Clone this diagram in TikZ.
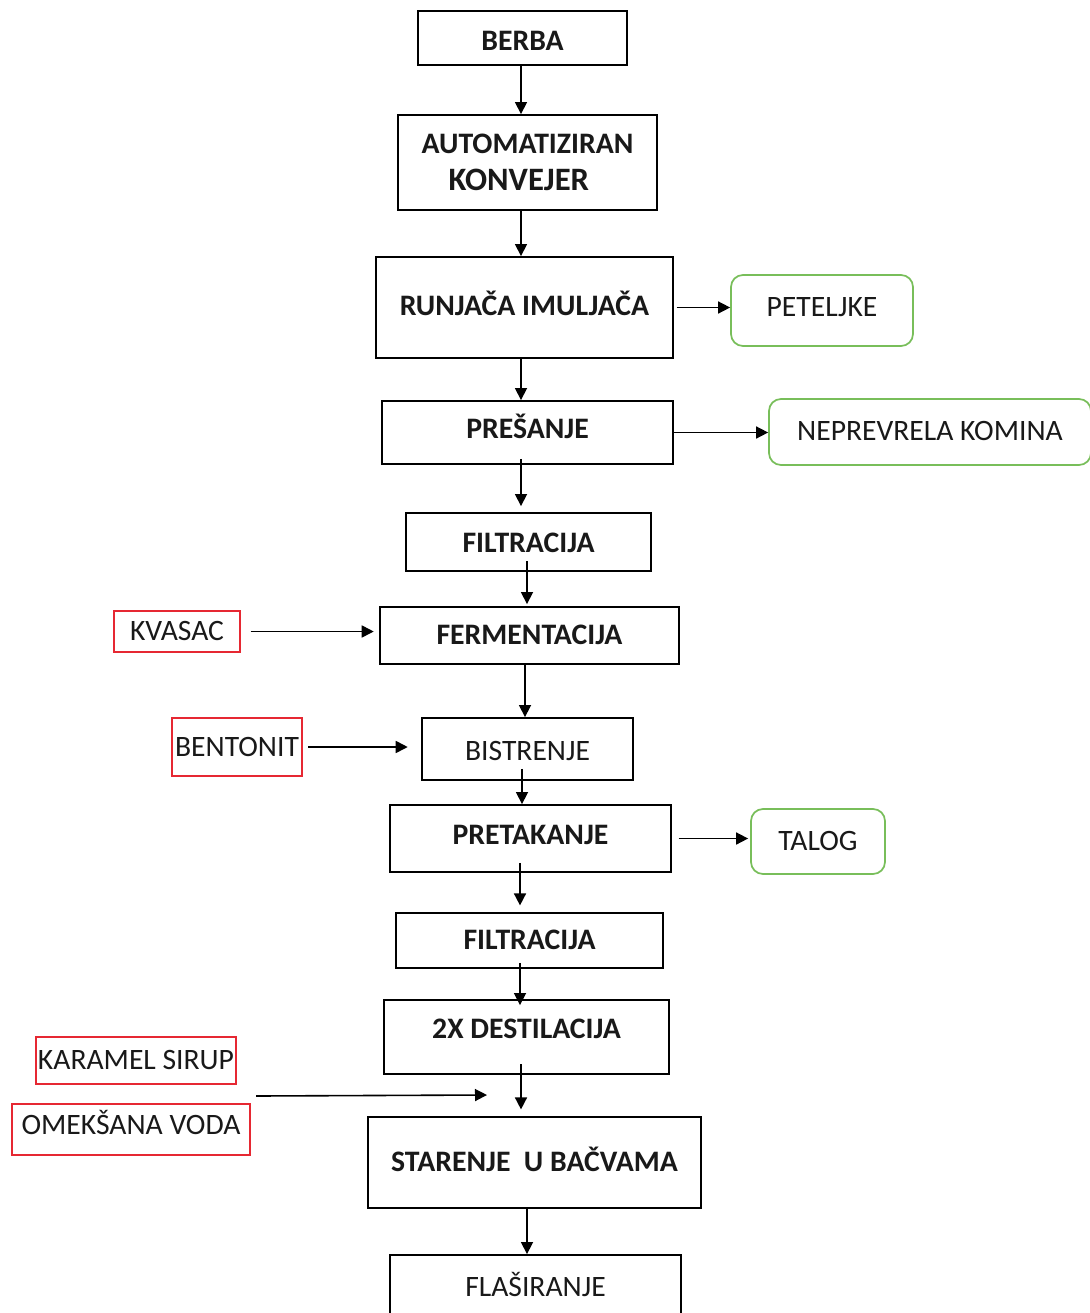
\documentclass[tikz,border=0pt]{standalone}
\usepackage{fontspec}
\setmainfont{Carlito}
\usetikzlibrary{arrows.meta}
\definecolor{boxgreen}{RGB}{120,190,90}
\definecolor{boxred}{RGB}{230,40,50}
\definecolor{txt}{RGB}{25,25,25}
\tikzset{
  stepbox/.style={draw=black, line width=1.4pt, rectangle, inner sep=0pt, align=center,
    font=\fontsize{22.3}{27.75}\selectfont\bfseries, text=txt, text height=14pt, text depth=0pt},
  plainbox/.style={stepbox, font=\fontsize{22.2}{27.75}\selectfont},
  outbox/.style={draw=boxgreen, line width=1.3pt, rectangle, rounded corners=9pt, inner sep=0pt,
    font=\fontsize{22.2}{27.75}\selectfont, text=txt, text height=14pt, text depth=0pt},
  inbox/.style={draw=boxred, line width=1.1pt, rectangle, inner sep=0pt,
    font=\fontsize{22.2}{27.75}\selectfont, text=txt, text height=14pt, text depth=0pt},
  arr/.style={draw=black, line width=1.2pt, -{Triangle[length=9pt,width=9pt]}},
}
\begin{document}
\begin{tikzpicture}[x=0.75pt,y=-0.75pt]
\useasboundingbox (0,0) rectangle (1089,1313);
\fill[white] (0,0) rectangle (1089,1313);
% main column
\node[stepbox, minimum width=156.75pt, minimum height=40.5pt, text height=18.5pt] (berba) at (522.5,38) {BERBA};
\node[stepbox, minimum width=194.25pt, minimum height=71.25pt, text height=, text depth=] (auto) at (527.5,162.5) {AUTOMATIZIRAN\\{\fontsize{24.5}{27.75}\selectfont KONVEJER}\hspace*{13pt}};
\node[stepbox, minimum width=222.75pt, minimum height=75.75pt, text depth=2.25pt] (runj) at (524.5,307.5) {RUNJAČA IMULJAČA};
\node[stepbox, minimum width=218.25pt, minimum height=47.25pt, text depth=5.25pt] (pres) at (527.5,432.5) {PREŠANJE};
\node[stepbox, minimum width=183.75pt, minimum height=43.5pt, text height=15.5pt] (filt) at (528.5,542) {FILTRACIJA};
\node[stepbox, minimum width=224.25pt, minimum height=42.75pt] (ferm) at (529.5,635.5) {FERMENTACIJA};
\node[plainbox, minimum width=158.25pt, minimum height=46.5pt, text height=17pt] (bistr) at (527.5,749) {BISTRENJE};
\node[stepbox, minimum width=210.75pt, minimum height=50.25pt, text depth=5.25pt] (pret) at (530.5,838.5) {PRETAKANJE};
\node[stepbox, minimum width=200.25pt, minimum height=41.25pt] (filt2) at (529.5,940.5) {FILTRACIJA};
\node[stepbox, minimum width=213.75pt, minimum height=55.5pt, text depth=12pt] (dest) at (526.5,1037) {2X DESTILACIJA};
\node[stepbox, minimum width=249.75pt, minimum height=68.25pt] (star) at (534.5,1162.5) {STARENJE \ U BAČVAMA};
\node[plainbox, minimum width=218.25pt, minimum height=48pt] (flas) at (535.5,1287) {FLAŠIRANJE};
% outputs
\node[outbox, minimum width=136.5pt, minimum height=53.25pt, text depth=5.25pt] (petel) at (822,310.5) {PETELJKE};
\node[outbox, minimum width=241.5pt, minimum height=49.5pt, text depth=1.5pt] (neprev) at (930,432) {NEPREVRELA KOMINA};
\node[outbox, minimum width=100.5pt, minimum height=48.75pt] (talog) at (818,841.5) {TALOG};
% inputs
\node[inbox, minimum width=94.5pt, minimum height=30.75pt] (kvasac) at (177,631.5) {KVASAC};
\node[inbox, minimum width=97.5pt, minimum height=43.5pt] (bent) at (237,747) {BENTONIT};
\node[inbox, minimum width=150pt, minimum height=35.25pt] (karam) at (136,1060.5) {KARAMEL SIRUP};
\node[inbox, minimum width=178.5pt, minimum height=38.25pt, text depth=6.75pt] (omek) at (131,1129.5) {OMEKŠANA VODA};
% helper coordinates
\coordinate (sA) at (521,0);
\coordinate (sB) at (527,0);
\coordinate (sC) at (525,0);
\coordinate (sD) at (522,0);
\coordinate (sE) at (520,0);
\coordinate (mixstart) at (256,1096);
\coordinate (mixend) at (487,1095);
% vertical flow
\draw[arr] (berba.south -| sA) -- (auto.north -| sA);
\draw[arr] (auto.south -| sA) -- (runj.north -| sA);
\draw[arr] (runj.south -| sA) -- (pres.north -| sA);
\draw[arr, shorten <=-4.5pt, shorten >=4.5pt] (pres.south -| sA) -- (filt.north -| sA);
\draw[arr, shorten <=-8pt, shorten >=1.5pt] (filt.south -| sB) -- (ferm.north -| sB);
\draw[arr] (ferm.south -| sC) -- (bistr.north -| sC);
\draw[arr, shorten <=-9pt] (bistr.south -| sD) -- (pret.north -| sD);
\draw[arr, shorten <=-7.5pt, shorten >=5pt] (pret.south -| sE) -- (filt2.north -| sE);
\draw[arr, shorten <=-4.5pt, shorten >=-4.5pt] (filt2.south -| sE) -- (dest.north -| sE);
\draw[arr, shorten <=-8pt, shorten >=5pt] (dest.south -| sA) -- (star.north -| sA);
\draw[arr] (star.south -| sB) -- (flas.north -| sB);
% side connectors
\draw[arr, shorten <=2pt] (runj.east) -- (petel.west |- runj.east);
\draw[arr] (pres.east) -- (neprev.west |- pres.east);
\draw[arr, shorten <=7.5pt, shorten >=4pt] (kvasac.east) -- (ferm.west |- kvasac.east);
\draw[arr, shorten <=4pt, shorten >=10pt] (bent.east) -- (bistr.west |- bent.east);
\draw[arr, shorten <=5pt, shorten >=1.5pt] (pret.east) -- (talog.west |- pret.east);
\draw[arr] (mixstart) -- (mixend);
\end{tikzpicture}
\end{document}
